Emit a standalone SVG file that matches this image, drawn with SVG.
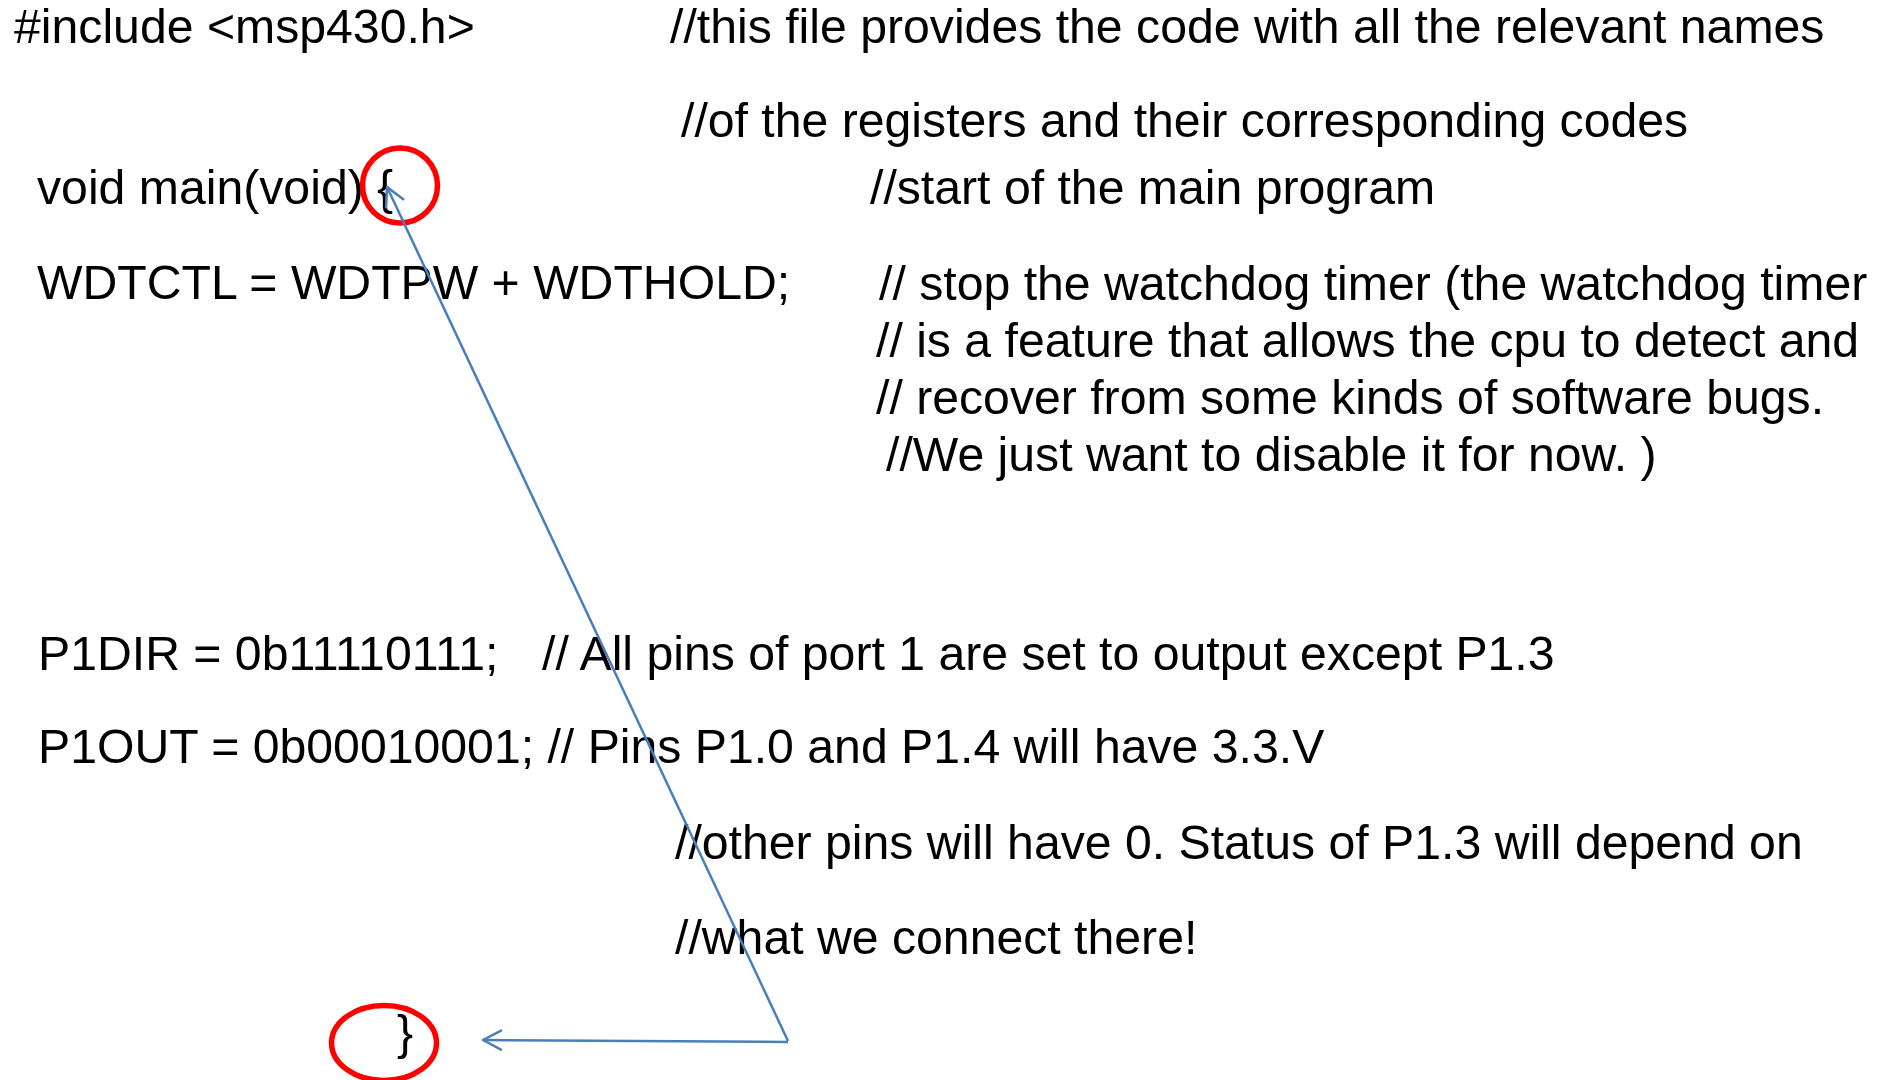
<svg xmlns="http://www.w3.org/2000/svg" width="1883" height="1080" viewBox="0 0 1883 1080">
  <style>
    text { font-family: "Liberation Sans", Arial, sans-serif; font-size: 48.2px; fill: #000000; white-space: pre; }
    .hl { fill: none; stroke: #FF0000; stroke-width: 5.5; }
    .conn { fill: none; stroke: #4A7EBB; stroke-width: 2.5; }
  </style>
  <defs>
    <marker id="openArrow" markerUnits="userSpaceOnUse" viewBox="-22 -14 26 28" refX="0" refY="0" markerWidth="26" markerHeight="28" orient="auto">
      <path d="M -18,-9.5 L 0,0 L -18,9.5" fill="none" stroke="#4A7EBB" stroke-width="2.5" stroke-linecap="round" stroke-linejoin="round"/>
    </marker>
  </defs>
  <rect width="1883" height="1080" fill="#FFFFFF"/>

  <g id="include-line">
    <text x="14" y="43">#include &lt;msp430.h&gt;</text>
    <text x="670" y="43">//this file provides the code with all the relevant names</text>
    <text x="681" y="137">//of the registers and their corresponding codes</text>
  </g>

  <g id="main-line">
    <text x="37" y="204">void main(void) {</text>
    <text x="870" y="204">//start of the main program</text>
  </g>

  <g id="wdt-line">
    <text x="37" y="299">WDTCTL = WDTPW + WDTHOLD;</text>
    <text x="879" y="300">// stop the watchdog timer (the watchdog timer</text>
    <text x="876" y="357">// is a feature that allows the cpu to detect and</text>
    <text x="876" y="414">// recover from some kinds of software bugs.</text>
    <text x="886" y="471">//We just want to disable it for now. )</text>
  </g>

  <g id="p1dir-line">
    <text x="38" y="670">P1DIR = 0b11110111;</text>
    <text x="542" y="670">// All pins of port 1 are set to output except P1.3</text>
  </g>

  <g id="p1out-line">
    <text x="38" y="763">P1OUT = 0b00010001; // Pins P1.0 and P1.4 will have 3.3.V</text>
    <text x="675" y="859">//other pins will have 0. Status of P1.3 will depend on</text>
    <text x="675" y="954">//what we connect there!</text>
  </g>

  <g id="close-brace">
    <text x="397" y="1049">}</text>
  </g>

  <g id="highlight-open">
    <ellipse class="hl" cx="400" cy="185.5" rx="37.5" ry="37.5"/>
  </g>
  <g id="highlight-close">
    <ellipse class="hl" cx="384" cy="1043" rx="52.5" ry="37.5"/>
  </g>

  <g id="connectors">
    <line class="conn" x1="788" y1="1041" x2="387" y2="187" marker-end="url(#openArrow)"/>
    <line class="conn" x1="788" y1="1042" x2="483" y2="1040" marker-end="url(#openArrow)"/>
  </g>
</svg>
